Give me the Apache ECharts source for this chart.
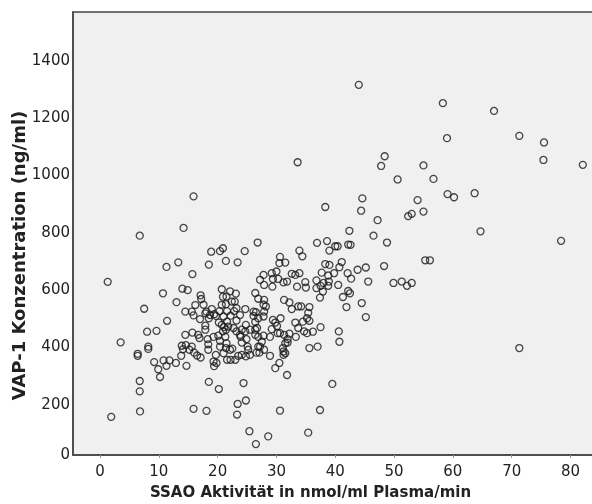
<!DOCTYPE html>
<html>
<head>
<meta charset="utf-8">
<script src="https://cdn.jsdelivr.net/npm/echarts@6/dist/echarts.min.js"></script>
<style>
html,body{margin:0;padding:0;background:#fff;}
#c{width:592px;height:504px;}
</style>
</head>
<body>
<div id="c"></div>
<script>
const xTicks = [0,10,20,30,40,50,60,70,80];
const yTicks = [200,400,600,800,1000,1200,1400];

const ssao = [
1.3,1.9,3.5,6.75,6.4,6.4,6.75,6.75,6.8,25.4,26.5,35.4,28.6,
15.9,14.2,20.9,26.8,
18.9,20.4,24.6,13.3,11.3,18.5,21.4,23.4,15.7,10.7,14.0,14.9,13.0,17.1,17.2,20.7,22.1,23.1,20.9,22.9,26.4,26.9,
7.5,11.4,8.0,9.6,8.2,8.2,14.5,15.6,15.9,16.2,17.6,17.9,18.5,19.0,19.4,20.3,20.7,21.4,21.6,22.2,22.8,23.2,24.7,26.1,26.5,26.9,
26.4,24.8,23.2,21.6,20.7,21.1,21.4,20.9,20.2,17.9,17.9,16.7,16.9,15.7,14.5,14.6,13.9,14.1,15.6,15.2,16.0,16.5,17.1,13.8,
18.3,18.4,18.4,19.3,20.1,20.4,20.4,21.3,21.5,21.4,22.5,22.1,19.7,19.4,19.8,21.6,22.2,23.0,23.5,23.9,24.1,24.7,24.9,25.1,24.8,25.5,
26.4,26.4,26.9,26.6,26.9,9.2,10.8,11.8,12.9,11.3,9.9,10.2,14.7,18.5,20.2,24.4,24.8,23.4,15.9,18.1,23.3,
18.1,19.7,21.0,21.8,22.7,23.2,23.8,24.1,25.5,26.1,23.8,22.4,21.5,18.7,17.0,21.0,24.1,25.2,19.3,
30.6,30.5,31.5,33.9,34.4,39.0,38.3,39.0,41.1,40.7,43.8,45.2,45.6,42.1,42.7,37.7,38.8,39.8,36.8,37.5,38.0,38.9,38.8,40.5,36.8,37.9,37.4,
41.3,42.2,42.5,41.9,44.5,45.2,32.6,33.2,33.9,33.5,34.9,35.0,31.2,31.8,27.8,27.9,29.2,29.3,30.0,29.4,30.3,27.2,27.9,27.8,28.2,27.9,27.8,
31.3,32.2,32.6,33.7,34.2,35.6,35.4,35.2,33.2,34.5,35.6,33.7,34.7,35.2,36.2,37.5,29.4,29.8,30.1,30.7,29.2,30.2,30.6,31.3,32.2,33.3,
26.7,27.8,27.5,27.2,27.9,27.1,28.9,31.9,31.5,31.9,31.1,31.2,31.5,31.2,28.9,30.5,29.8,31.8,35.6,37.0,40.6,40.7,39.5,30.6,37.4,
33.6,48.4,47.8,55.0,50.6,56.7,59.1,44.6,44.4,54.0,55.0,52.4,53.0,38.3,47.2,42.4,46.5,48.8,36.9,38.6,40.0,40.4,42.2,42.6,55.3,56.1,48.3,49.9,51.3,52.2,53.0,
75.4,82.1,60.2,63.7,64.7,78.4,58.3,67.0,59.0,71.3,75.5,44.0,71.3
];

const vap1 = [
629,158,418,790,378,371,283,247,177,108,63,103,90,
927,817,746,766,
734,736,736,697,681,689,702,697,656,589,605,600,558,582,569,603,596,588,577,560,590,570,
535,493,455,458,403,395,525,525,512,548,549,519,502,534,516,527,549,551,527,511,527,537,534,525,523,502,
489,479,494,490,479,471,462,456,487,476,462,444,433,452,444,408,406,394,403,392,382,372,365,371,
429,411,392,437,441,423,403,437,415,398,396,392,374,335,346,357,357,357,371,437,417,456,429,403,369,374,
462,444,437,382,403,349,355,355,346,336,324,297,336,280,255,276,215,203,186,179,166,
525,510,508,473,468,456,444,462,462,510,513,560,578,513,499,380,374,392,351,
716,694,696,738,718,738,691,688,698,680,671,679,630,659,640,661,651,659,634,615,625,630,615,618,607,595,574,
576,597,589,541,555,506,657,653,659,612,628,609,627,630,653,618,659,612,665,639,639,636,566,549,543,525,508,
566,557,534,543,543,541,521,502,487,490,493,468,456,450,455,471,496,487,475,502,464,450,450,444,448,437,
468,441,420,403,392,382,437,429,415,417,398,386,380,374,371,346,328,304,398,403,456,420,273,180,182,
1046,1067,1033,1035,986,988,935,920,877,914,874,858,866,890,844,807,790,766,765,771,753,753,759,758,704,704,684,625,630,615,625,
1054,1037,924,938,805,772,1252,1225,1130,1138,1115,1316,398
];

const points = ssao.map((x, i) => [x, vap1[i]]);

const chart = echarts.init(document.getElementById('c'), null, {renderer: 'canvas'});
const font = "'DejaVu Sans', sans-serif";
chart.setOption({
  animation: false,
  backgroundColor: '#ffffff',
  grid: {
    left: 73, right: -2, top: 12, bottom: 49,
    outerBoundsMode: 'none',
    containLabel: false,
    show: true, backgroundColor: '#f0f0f0',
    borderColor: '#444', borderWidth: 1.5
  },
  xAxis: {
    type: 'value', min: -4.6, max: 84,
    name: 'SSAO Aktivität in nmol/ml Plasma/min',
    nameLocation: 'middle', nameGap: 31, nameMoveOverlap: false,
    nameTextStyle: {fontFamily: font, fontWeight: 'bold', fontSize: 15, color: '#222', padding: [0, 46, 0, 0]},
    axisLine: {show: true, onZero: false, lineStyle: {color: '#444', width: 1.5}},
    axisTick: {show: true, length: 3, customValues: xTicks, lineStyle: {color: '#999'}},
    axisLabel: {customValues: xTicks, fontFamily: font, fontSize: 15, color: '#222', margin: 10},
    splitLine: {show: false}
  },
  yAxis: {
    type: 'value', min: 25, max: 1570,
    name: 'VAP-1 Konzentration (ng/ml)',
    nameLocation: 'middle', nameGap: 44, nameRotate: 90, nameMoveOverlap: false,
    nameTextStyle: {fontFamily: font, fontWeight: 'bold', fontSize: 18, color: '#222', padding: [0, 44, 0, 0]},
    axisLine: {show: true, onZero: false, lineStyle: {color: '#444', width: 1.5}},
    axisTick: {show: false},
    axisLabel: {
      customValues: [25].concat(yTicks),
      formatter: v => (v < 100 ? '0' : String(v)),
      fontFamily: font, fontSize: 15, color: '#222', margin: 3
    },
    splitLine: {show: false}
  },
  series: [{
    type: 'scatter',
    data: points,
    symbol: 'circle',
    symbolSize: 7,
    itemStyle: {color: 'rgba(0,0,0,0)', borderColor: '#1a1a1a', borderWidth: 1.3},
    emphasis: {disabled: true}
  }]
});
</script>
</body>
</html>
